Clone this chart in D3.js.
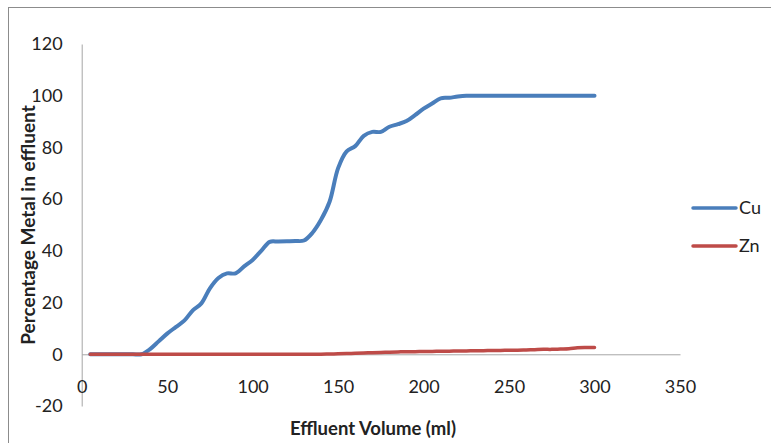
<!DOCTYPE html>
<html>
<head>
<meta charset="utf-8">
<script src="https://cdn.jsdelivr.net/npm/d3@7"></script>
<style>
  body { margin: 0; background: #fff; }
  text { font-family: Lato, "Open Sans", sans-serif; fill: #222; }
</style>
</head>
<body>
<svg id="chart" width="771" height="443"></svg>
<script>
// effluent volume (ml)
var volume = [5, 10, 15, 20, 25, 30, 35, 40, 45, 50, 55, 60, 65, 70, 75, 80, 85, 90, 95, 100,
  105, 110, 115, 120, 125, 130, 135, 140, 145, 150, 155, 160, 165, 170, 175, 180, 185, 190, 195, 200,
  205, 210, 215, 220, 225, 230, 235, 240, 245, 250, 255, 260, 265, 270, 275, 280, 285, 290, 295, 300];

var cuValues = [0, 0, 0, 0, 0, 0, 0, 2, 5, 8, 10.5, 13, 17, 19.7, 25.5, 29.5, 31.3, 31.3, 34, 36.5,
  40, 43.5, 43.6, 43.7, 43.8, 44, 47, 52, 59, 72, 78.5, 80.5, 84.5, 86, 86, 88, 89, 90.2, 92.5, 95,
  97, 99, 99.2, 99.7, 100, 100, 100, 100, 100, 100, 100, 100, 100, 100, 100, 100, 100, 100, 100, 100];

var znValues = [0, 0, 0, 0, 0, 0, 0, 0, 0, 0, 0, 0, 0, 0, 0, 0, 0, 0, 0, 0,
  0, 0, 0, 0, 0, 0, 0, 0, 0.1, 0.2, 0.3, 0.4, 0.5, 0.6, 0.7, 0.8, 0.9, 1, 1, 1.1,
  1.1, 1.2, 1.2, 1.3, 1.3, 1.4, 1.4, 1.5, 1.5, 1.6, 1.6, 1.7, 1.8, 1.9, 1.9, 2, 2.1, 2.5, 2.6, 2.6];

var series = [
  {name: "Cu", values: cuValues, color: "#4a7ebb"},
  {name: "Zn", values: znValues, color: "#be4b48"}
];

var xTicks = [0, 50, 100, 150, 200, 250, 300, 350];
var yTicks = [-20, 0, 20, 40, 60, 80, 100, 120];

var svg = d3.select("#chart");

// outer chart border
svg.append("rect")
  .attr("x", 8.5).attr("y", 7.5)
  .attr("width", 800).attr("height", 500)
  .attr("fill", "none")
  .attr("stroke", "#8c8c8c");

var x = d3.scaleLinear().domain([0, 350]).range([81.7, 680]);
var y = d3.scaleLinear().domain([-20, 120]).range([406, 44]);

var yAxisG = svg.append("g")
  .attr("transform", "translate(81.7,0)")
  .call(d3.axisLeft(y).tickValues(yTicks).tickSize(0).tickPadding(19)
    .tickFormat(function (d) { return String(d); }));
yAxisG.select(".domain").attr("stroke", "#a6a6a6");
yAxisG.selectAll("text")
  .style("font-size", "18px")
  .style("font-family", "Lato, sans-serif")
  .attr("fill", "#222");

var xAxisG = svg.append("g")
  .attr("transform", "translate(0," + y(0) + ")")
  .call(d3.axisBottom(x).tickValues(xTicks).tickSize(0).tickPadding(26)
    .tickFormat(function (d) { return String(d); }));
xAxisG.select(".domain").attr("stroke", "#a6a6a6");
xAxisG.selectAll("text")
  .style("font-size", "18px")
  .style("font-family", "Lato, sans-serif")
  .attr("fill", "#222");

// lines
var line = d3.line()
  .x(function (d, i) { return x(volume[i]); })
  .y(function (d) { return y(d); })
  .curve(d3.curveCatmullRom.alpha(0.5));

series.forEach(function (s) {
  svg.append("path")
    .datum(s.values)
    .attr("d", line)
    .attr("fill", "none")
    .attr("stroke", s.color)
    .attr("stroke-width", s.name === "Cu" ? 4 : 3.5)
    .attr("stroke-linecap", "round")
    .attr("stroke-linejoin", "round");
});

// axis titles
svg.append("text")
  .attr("transform", "translate(35,225) rotate(-90)")
  .attr("text-anchor", "middle")
  .style("font-size", "19px")
  .style("font-weight", "bold")
  .text("Percentage Metal in effluent");

svg.append("text")
  .attr("x", 373).attr("y", 435)
  .attr("text-anchor", "middle")
  .style("font-size", "18.5px")
  .style("font-weight", "bold")
  .text("Effluent Volume (ml)");

// legend
var legend = svg.selectAll(".legend")
  .data(series)
  .enter().append("g")
  .attr("class", "legend")
  .attr("transform", function (d, i) { return "translate(693," + (208 + i * 38) + ")"; });

legend.append("line")
  .attr("x1", 0).attr("x2", 43)
  .attr("stroke", function (d) { return d.color; })
  .attr("stroke-width", 3.5)
  .attr("stroke-linecap", "round");

legend.append("text")
  .attr("x", 46).attr("dy", "0.35em")
  .style("font-size", "18px")
  .text(function (d) { return d.name; });
</script>
</body>
</html>
